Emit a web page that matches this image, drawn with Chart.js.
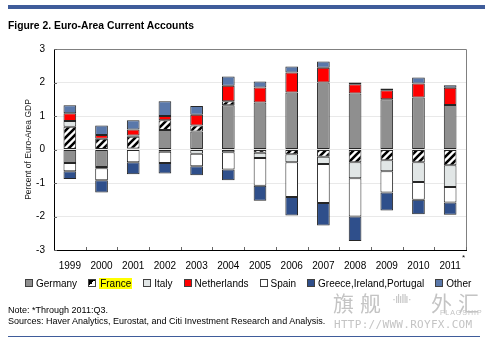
<!DOCTYPE html>
<html>
<head>
<meta charset="utf-8">
<script src="https://cdn.jsdelivr.net/npm/chart.js@4.4.1/dist/chart.umd.min.js"></script>
<style>
  html, body { margin:0; padding:0; background:#fff; }
  #wrap { position:relative; width:485px; height:342px; overflow:hidden; font-family:"Liberation Sans", Arial, sans-serif; color:#000; }
  #c { position:absolute; left:0; top:0; }
  .abs { position:absolute; white-space:nowrap; }
  #topline { position:absolute; left:8px; top:5px; width:477px; height:4px; background:#3f5c9a; }
  #title { left:8px; top:19px; font-weight:bold; font-size:11.5px; transform:scaleX(0.9); transform-origin:0 0; }
  #legend { position:absolute; left:25px; top:277px; height:12px; display:flex; align-items:center; font-size:10px; }
  .item { display:flex; align-items:center; margin-right:11px; }
  .sw { width:6px; height:6px; border:1px solid #404040; margin-right:3px; }
  .hl { background:#ffff00; padding:0 1px; }
  #note1 { left:8px; top:305px; font-size:9px; }
  #note2 { left:8px; top:316px; font-size:9px; }
  #botline { position:absolute; left:8px; top:336px; width:472px; height:1px; background:#3f5c9a; }
  #star { left:462px; top:253px; font-size:8px; }
  .wm { color:#c4c4c4; }
</style>
</head>
<body>
<div id="wrap">
  <canvas id="c" width="485" height="342"></canvas>
  <div id="topline"></div>
  <div id="title" class="abs">Figure 2. Euro-Area Current Accounts</div>
  <div id="star" class="abs">*</div>
  <div id="legend"></div>
  <div class="abs wm" style="left:333px;top:287px;font-size:21px;font-family:'Noto Sans CJK SC';letter-spacing:6px;">旗舰</div>
  <div class="abs wm" style="left:392px;top:292px;font-size:12px;letter-spacing:-1px;">·ılıIlı·</div>
  <div class="abs wm" style="left:431px;top:287px;font-size:21px;font-family:'Noto Sans CJK SC';letter-spacing:6px;">外汇</div>
  <div class="abs wm" style="left:440px;top:309px;font-size:7px;letter-spacing:1px;">FLAGSHIP</div>
  <div class="abs wm" style="left:334px;top:318px;font-size:11px;font-family:'DejaVu Sans Mono';letter-spacing:0.3px;">HTTP://WWW.ROYFX.COM</div>
  <div id="note1" class="abs">Note: *Through 2011:Q3.</div>
  <div id="note2" class="abs">Sources: Haver Analytics, Eurostat, and Citi Investment Research and Analysis.</div>
  <div id="botline"></div>
</div>
<script>
// ---- data ----
const years = ["1999","2000","2001","2002","2003","2004","2005","2006","2007","2008","2009","2010","2011"];
const seriesNames = ["Germany","France","Italy","Netherlands","Spain","Greece,Ireland,Portugal","Other"];
const germany     = [-0.40,-0.52, 0.03, 0.58, 0.54, 1.32, 1.40, 1.70, 2.00, 1.67, 1.50, 1.55, 1.33];
const france      = [ 0.68, 0.32, 0.35, 0.29, 0.18, 0.12,-0.10,-0.14,-0.22,-0.38,-0.32,-0.38,-0.47];
const italy       = [ 0.17,-0.04, 0.04,-0.07,-0.13,-0.08,-0.15,-0.24,-0.21,-0.48,-0.33,-0.59,-0.65];
const netherlands = [ 0.23, 0.11, 0.18, 0.13, 0.32, 0.46, 0.45, 0.60, 0.44, 0.28, 0.27, 0.42, 0.51];
const spain       = [-0.25,-0.36,-0.38,-0.33,-0.37,-0.52,-0.83,-1.04,-1.17,-1.14,-0.63,-0.53,-0.46];
const gip         = [-0.23,-0.36,-0.36,-0.32,-0.27,-0.32,-0.45,-0.55,-0.67,-0.73,-0.54,-0.43,-0.37];
const other       = [ 0.24, 0.29, 0.27, 0.44, 0.26, 0.28, 0.18, 0.18, 0.19, 0.05, 0.05, 0.18, 0.08];
const yTicks = [-3,-2,-1,0,1,2,3];

// ---- styles ----
function hatch(){
  const p = document.createElement('canvas'); p.width = 7; p.height = 7;
  const g = p.getContext('2d');
  g.fillStyle = '#fff'; g.fillRect(0,0,7,7);
  g.strokeStyle = '#000'; g.lineWidth = 2.6;
  g.beginPath();
  g.moveTo(-1,8); g.lineTo(8,-1);
  g.moveTo(-1,1); g.lineTo(1,-1);
  g.moveTo(6,8); g.lineTo(8,6);
  g.stroke();
  return g.createPattern(p,'repeat');
}
const ctx = document.getElementById('c').getContext('2d');
const fills = ['#8f8f8f', hatch(), '#e1e6e6', '#ff0000', '#ffffff', '#2f4f8b', '#5a78aa'];
const swatchCss = ['#8f8f8f','linear-gradient(135deg,#000 0 50%,#fff 50% 100%)','#e1e6e6','#ff0000','#ffffff','#2f4f8b','#5a78aa'];
const values = [germany, france, italy, netherlands, spain, gip, other];

// legend
const lg = document.getElementById('legend');
seriesNames.forEach((n,i)=>{
  const it = document.createElement('div'); it.className='item';
  const sw = document.createElement('div'); sw.className='sw'; sw.style.background = swatchCss[i];
  const tx = document.createElement('span'); tx.textContent = n; if (n==='France') tx.className='hl';
  it.appendChild(sw); it.appendChild(tx); lg.appendChild(it);
});

const framePlugin = {
  id:'frame',
  afterDraw(chart){
    const {ctx, chartArea:a, scales:{x,y}} = chart;
    ctx.save();
    ctx.lineWidth = 1;
    ctx.strokeStyle = '#808080';
    ctx.beginPath();
    ctx.moveTo(a.left, a.top+0.5); ctx.lineTo(a.right+0.5, a.top+0.5); ctx.lineTo(a.right+0.5, a.bottom);
    ctx.stroke();
    ctx.strokeStyle = '#000';
    ctx.beginPath();
    ctx.moveTo(a.left+0.5, a.top); ctx.lineTo(a.left+0.5, a.bottom+0.5); ctx.lineTo(a.right+1, a.bottom+0.5);
    ctx.stroke();
    ctx.strokeStyle = '#666';
    ctx.beginPath();
    yTicks.forEach(v=>{ const py = Math.round(y.getPixelForValue(v))+0.5; ctx.moveTo(a.left, py); ctx.lineTo(a.left+3, py); });
    for (let i=1;i<=years.length;i++){
      const px = Math.round(x.getPixelForValue(i-0.5))+0.5;
      ctx.moveTo(px, a.bottom); ctx.lineTo(px, a.bottom-3);
    }
    ctx.stroke();
    ctx.restore();
  }
};

new Chart(ctx, {
  type:'bar',
  data:{
    labels: years,
    datasets: seriesNames.map((n,i)=>({
      label:n, data:values[i], backgroundColor:fills[i],
      borderColor:'#262626', borderWidth:1, borderSkipped:false,
      barPercentage:0.4, categoryPercentage:1
    }))
  },
  options:{
    responsive:false, animation:false,
    layout:{ padding:{ left:24, top:49, right:19, bottom:0 } },
    plugins:{ legend:{display:false}, tooltip:{enabled:false} },
    scales:{
      x:{
        stacked:true,
        grid:{ display:false, drawTicks:false },
        border:{ display:false },
        ticks:{ color:'#000', font:{ family:'Liberation Sans', size:10 }, padding:10, maxRotation:0 },
        afterFit(s){ s.height = 92; }
      },
      y:{
        stacked:true, min:-3, max:3,
        afterBuildTicks(s){ s.ticks = yTicks.map(v=>({value:v})); },
        grid:{ color:'#e9e9e9', drawTicks:false },
        border:{ display:false },
        ticks:{ color:'#000', font:{ family:'Liberation Sans', size:10 }, padding:9 },
        title:{ display:true, text:'Percent of Euro-Area GDP', color:'#222', font:{ family:'Liberation Sans', size:8.5 }, padding:{top:0,bottom:0} },
        afterFit(s){ s.width = 30; }
      }
    }
  },
  plugins:[framePlugin]
});
</script>
</body>
</html>
